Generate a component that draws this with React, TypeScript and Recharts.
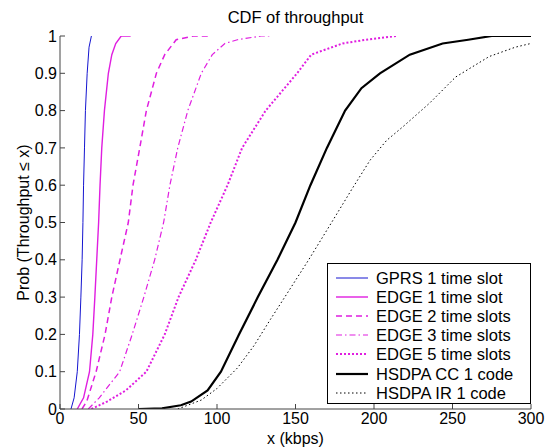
import { LineChart, Line, XAxis, YAxis } from 'recharts';

// CDF samples: [throughput kbps, probability]
const gprs1 = [[7, 0], [9, 0.03], [11, 0.1], [12.4, 0.2], [13.3, 0.3], [14.1, 0.4], [14.6, 0.5], [15, 0.6], [15.6, 0.7], [16.2, 0.8], [17.3, 0.9], [18.5, 0.97], [20, 1]];
const edge1 = [[11, 0], [15, 0.03], [18.8, 0.1], [20.9, 0.2], [22.2, 0.3], [23.4, 0.4], [24.6, 0.5], [25.5, 0.6], [26.6, 0.7], [28.3, 0.8], [30.8, 0.9], [33, 0.95], [35.5, 0.98], [39, 1], [45, 1]];
const edge2 = [[14, 0], [17, 0.02], [23, 0.1], [28.7, 0.2], [33, 0.3], [38.2, 0.4], [43.5, 0.5], [46.5, 0.6], [50.8, 0.7], [55, 0.8], [61.4, 0.9], [66.7, 0.95], [74, 0.99], [85, 1], [95, 1]];
const edge3 = [[18, 0], [25, 0.03], [38, 0.1], [46, 0.2], [53.4, 0.3], [60.3, 0.4], [66, 0.5], [70, 0.6], [75, 0.7], [81.4, 0.8], [90, 0.9], [97, 0.95], [105, 0.98], [113, 0.99], [128, 1], [135, 1]];
const edge5 = [[20, 0], [30, 0.02], [42, 0.05], [55, 0.1], [66.7, 0.2], [75.5, 0.3], [86.5, 0.4], [96, 0.5], [106.7, 0.6], [116, 0.7], [131, 0.8], [151, 0.9], [160, 0.95], [180, 0.98], [195, 0.99], [214, 1]];
const hsdpaCC = [[50, 0], [65, 0.002], [77, 0.01], [83.5, 0.02], [94, 0.05], [102.5, 0.1], [114, 0.2], [126, 0.3], [138.5, 0.4], [150, 0.5], [159.5, 0.6], [170, 0.7], [181.6, 0.8], [192, 0.86], [203.8, 0.9], [222.8, 0.95], [243.7, 0.98], [260, 0.99], [275, 1], [300, 1]];
const hsdpaIR = [[75, 0], [90, 0.024], [100, 0.055], [113, 0.11], [123.6, 0.17], [134, 0.24], [144.7, 0.31], [158.4, 0.4], [174, 0.507], [186, 0.59], [197.5, 0.667], [208, 0.72], [218.5, 0.757], [235.4, 0.82], [252, 0.89], [273.4, 0.945], [290, 0.97], [300, 0.98]];

const xTicks = [0, 50, 100, 150, 200, 250, 300];
const yTicks = [0, 0.1, 0.2, 0.3, 0.4, 0.5, 0.6, 0.7, 0.8, 0.9, 1];

const FONT = '"Liberation Sans", Arial, Helvetica, sans-serif';
const MAG = '#e01ee0';

const series = [
  { name: 'GPRS 1 time slot', data: gprs1, color: '#1515d0', width: 1, dash: undefined },
  { name: 'EDGE 1 time slot', data: edge1, color: MAG, width: 1.4, dash: undefined },
  { name: 'EDGE 2 time slots', data: edge2, color: MAG, width: 1.5, dash: '6 4' },
  { name: 'EDGE 3 time slots', data: edge3, color: MAG, width: 1.2, dash: '6 3 1.5 3' },
  { name: 'EDGE 5 time slots', data: edge5, color: MAG, width: 2, dash: '2 2' },
  { name: 'HSDPA CC 1 code', data: hsdpaCC, color: '#000', width: 2.2, dash: undefined },
  { name: 'HSDPA IR 1 code', data: hsdpaIR, color: '#000', width: 1, dash: '1.5 2.5' },
];

const toPoints = (pairs: number[][]) => pairs.map(([x, y]) => ({ x, y }));

const axisStroke = '#444';
const tickStyle = { fontSize: 16, fill: '#000', fontFamily: FONT };
const labelStyle = { fontSize: 16, fill: '#000', fontFamily: FONT };

export default function App() {
  return (
    <div style={{ position: 'absolute', left: 0, top: 0, width: 556, height: 447, background: '#fff', fontFamily: FONT, overflow: 'hidden' }}>
      <LineChart width={556} height={447} margin={{ top: 36, right: 25, bottom: 0, left: 0 }}>
        <XAxis
          dataKey="x"
          type="number"
          domain={[0, 300]}
          ticks={xTicks}
          interval={0}
          height={38}
          tickSize={-5}
          tickMargin={9}
          stroke={axisStroke}
          tick={tickStyle}
          allowDataOverflow
          label={{ value: 'x (kbps)', position: 'insideBottom', offset: 3, style: labelStyle }}
        />
        <XAxis
          xAxisId="top"
          orientation="top"
          type="number"
          domain={[0, 300]}
          ticks={xTicks}
          interval={0}
          height={0}
          tickSize={-5}
          tick={false}
          stroke={axisStroke}
          allowDataOverflow
        />
        <YAxis
          type="number"
          domain={[0, 1]}
          ticks={yTicks}
          interval={0}
          width={60}
          tickSize={-5}
          tickMargin={8}
          stroke={axisStroke}
          tick={tickStyle}
          allowDataOverflow
          label={{ value: 'Prob (Throughput ≤ x)', angle: -90, position: 'insideLeft', offset: 23, style: { ...labelStyle, textAnchor: 'middle' } }}
        />
        <YAxis
          yAxisId="right"
          orientation="right"
          type="number"
          domain={[0, 1]}
          ticks={yTicks}
          interval={0}
          width={0}
          tickSize={-5}
          tick={false}
          stroke={axisStroke}
          allowDataOverflow
        />
        {series.map((s) => (
          <Line
            key={s.name}
            data={toPoints(s.data)}
            dataKey="y"
            name={s.name}
            type="linear"
            stroke={s.color}
            strokeWidth={s.width}
            strokeDasharray={s.dash}
            dot={false}
            activeDot={false}
            isAnimationActive={false}
          />
        ))}
      </LineChart>

      {/* title */}
      <div style={{ position: 'absolute', left: 0, width: 591, top: 9, textAlign: 'center', fontSize: 16.5, lineHeight: '16px', color: '#000' }}>
        CDF of throughput
      </div>

      {/* legend box */}
      <div style={{ position: 'absolute', left: 327, top: 263, width: 204, height: 141, border: '1px solid #000', background: '#fff', paddingTop: 4, boxSizing: 'border-box' }}>
        {series.map((s) => (
          <div key={s.name} style={{ display: 'flex', alignItems: 'center', height: 19.2 }}>
            <svg width={48} height={10} style={{ flex: 'none' }}>
              <line x1={8} x2={40} y1={5} y2={5} stroke={s.color} strokeWidth={s.width} strokeDasharray={s.dash} />
            </svg>
            <span style={{ fontSize: 16.5, lineHeight: '16px', color: '#000', whiteSpace: 'nowrap' }}>{s.name}</span>
          </div>
        ))}
      </div>
    </div>
  );
}
